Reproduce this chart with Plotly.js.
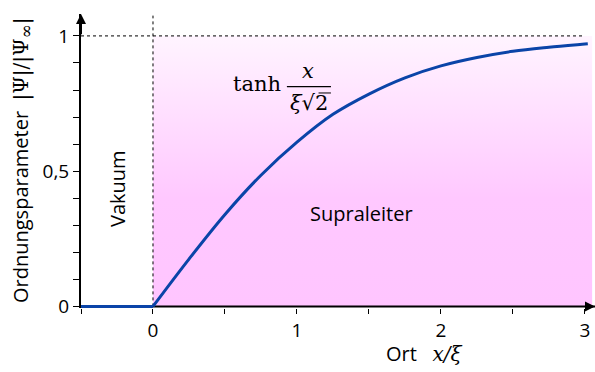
<!DOCTYPE html>
<html>
<head>
<meta charset="utf-8">
<script src="https://cdn.plot.ly/plotly-3.0.1.min.js"></script>
<style>
  html, body { margin: 0; padding: 0; background: #fff; }
  #chart { width: 595px; height: 372px; }
</style>
</head>
<body>
<div id="chart"></div>
<script>
// order parameter: zero in vacuum, rising in the superconductor
const vacuumX = [-0.5, 0];
const vacuumY = [0, 0];
const superX = [0, 0.25, 0.5, 0.75, 1, 1.25, 1.5, 1.75, 2, 2.25, 2.5, 2.75, 3, 3.02];
const superY = [0, 0.175, 0.34, 0.485, 0.607, 0.71, 0.785, 0.845, 0.889, 0.92, 0.943, 0.958, 0.97, 0.971];

// superconductor region
const regionX = [0, 3.05, 3.05, 0];
const regionY = [0, 0, 1, 1];

// reference lines
const refLineX = [-0.5, 3.0];
const refLineY = [1, 1];
const wallX = [0, 0];
const wallY = [0, 1.075];
const baseX = [-0.5, 3.07];
const baseY = [0, 0];

const xTickVals = [0, 1, 2, 3];
const xTickText = ['0', '1', '2', '3'];
const yTickVals = [0, 0.5, 1];
const yTickText = ['0', '0,5', '1'];

const xRange = [-0.5, 3.07];
const yRange = [-0.006, 1.081];

const blue = '#0a44a8';
const serif = 'DejaVu Serif, Liberation Serif, serif';
const sans = 'Open Sans, DejaVu Sans, sans-serif';

const traces = [
    {
        x: regionX, y: regionY,
        type: 'scatter', mode: 'lines',
        fill: 'toself',
        fillcolor: 'rgb(255,200,255)',
        fillgradient: {
            type: 'vertical',
            colorscale: [[0, 'rgb(255,197,255)'], [0.4, 'rgb(255,200,255)'], [1, 'rgb(255,244,255)']]
        },
        line: { width: 0 },
        hoverinfo: 'skip'
    },
    {
        x: refLineX, y: refLineY,
        type: 'scatter', mode: 'lines',
        line: { color: '#000', width: 1, dash: 'dot' }
    },
    {
        x: wallX, y: wallY,
        type: 'scatter', mode: 'lines',
        line: { color: '#000', width: 1, dash: 'dot' }
    },
    {
        x: baseX, y: baseY,
        type: 'scatter', mode: 'lines',
        line: { color: '#000', width: 2 }
    },
    {
        x: vacuumX, y: vacuumY,
        type: 'scatter', mode: 'lines',
        line: { color: blue, width: 3 }
    },
    {
        x: superX, y: superY,
        type: 'scatter', mode: 'lines',
        line: { color: blue, width: 3, shape: 'spline', smoothing: 1 }
    }
];

const layout = {
    width: 595,
    height: 372,
    margin: { l: 81, r: 0, t: 14, b: 64 },
    paper_bgcolor: '#fff',
    plot_bgcolor: 'rgba(0,0,0,0)',
    showlegend: false,
    font: { family: sans, size: 20, color: '#000' },
    xaxis: {
        range: xRange,
        showgrid: false,
        zeroline: false,
        showline: false,
        tickvals: xTickVals,
        ticktext: xTickText,
        ticks: 'outside',
        ticklen: 5,
        tickwidth: 1,
        tickcolor: '#000',
        minor: { dtick: 0.5, tick0: 0, ticks: 'outside', ticklen: 5, tickwidth: 1, tickcolor: '#000' },
        tickfont: { size: 19 }
    },
    yaxis: {
        range: yRange,
        showgrid: false,
        zeroline: false,
        showline: true,
        linewidth: 2,
        linecolor: '#000',
        tickvals: yTickVals,
        ticktext: yTickText,
        ticks: 'outside',
        ticklen: 6,
        tickwidth: 1,
        tickcolor: '#000',
        minor: { dtick: 0.1, tick0: 0, ticks: 'outside', ticklen: 6, tickwidth: 1, tickcolor: '#000' },
        tickfont: { size: 19 }
    },
    annotations: [
        // arrow heads at the axis ends
        {
            x: xRange[1], y: 0, ax: xRange[1] - 0.08, ay: 0,
            xref: 'x', yref: 'y', axref: 'x', ayref: 'y',
            showarrow: true, arrowhead: 2, arrowsize: 1, arrowwidth: 2, arrowcolor: '#000', text: ''
        },
        {
            x: -0.5, y: yRange[1], ax: -0.5, ay: yRange[1] - 0.08,
            xref: 'x', yref: 'y', axref: 'x', ayref: 'y',
            showarrow: true, arrowhead: 2, arrowsize: 1, arrowwidth: 2, arrowcolor: '#000', text: ''
        },
        // axis titles placed in pixels
        {
            px: 21, py: 161, showarrow: false, textangle: -90,
            text: 'Ordnungsparameter  <span style="font-family:' + serif + '">|Ψ|/|Ψ<sub><span style="font-size:17px">∞</span></sub>|</span>',
            font: { size: 20 }
        },
        {
            px: 424, py: 353, showarrow: false,
            text: 'Ort   <i style="font-family:' + serif + '">x/ξ</i>',
            font: { size: 20 }
        },
        {
            x: -0.243, y: 0.434, xref: 'x', yref: 'y', showarrow: false,
            text: 'Vakuum', textangle: -90, font: { size: 20 }
        },
        {
            x: 1.45, y: 0.342, xref: 'x', yref: 'y', showarrow: false,
            text: 'Supraleiter', font: { size: 20 }
        },
        // tanh x / (xi sqrt 2)
        {
            x: 0.722, y: 0.822, xref: 'x', yref: 'y', showarrow: false,
            text: 'tanh', font: { family: serif, size: 21 }
        },
        {
            x: 1.08, y: 0.872, xref: 'x', yref: 'y', showarrow: false,
            text: '<i>x</i>', font: { family: serif, size: 21 }
        },
        {
            x: 1.083, y: 0.752, xref: 'x', yref: 'y', showarrow: false,
            text: '<i>ξ</i>√2', font: { family: serif, size: 21 }
        }
    ],
    shapes: [
        // fraction bar and root overbar
        { type: 'line', xref: 'x', yref: 'y', x0: 0.93, x1: 1.236, y0: 0.8125, y1: 0.8125, line: { color: '#000', width: 1.3 } },
        { type: 'line', xref: 'x', yref: 'y', x0: 1.15, x1: 1.236, y0: 0.789, y1: 0.789, line: { color: '#000', width: 1 } }
    ]
};

// annotations given in pixels -> paper fractions, centred on the point
const plotW = layout.width - layout.margin.l - layout.margin.r;
const plotH = layout.height - layout.margin.t - layout.margin.b;
layout.annotations.forEach(a => {
    if (a.px !== undefined) {
        a.xref = 'paper';
        a.yref = 'paper';
        a.xanchor = 'center';
        a.yanchor = 'middle';
        a.x = (a.px - layout.margin.l) / plotW;
        a.y = (layout.height - layout.margin.b - a.py) / plotH;
        delete a.px;
        delete a.py;
    }
});

Plotly.newPlot('chart', traces, layout, { displayModeBar: false, staticPlot: true });
</script>
</body>
</html>
